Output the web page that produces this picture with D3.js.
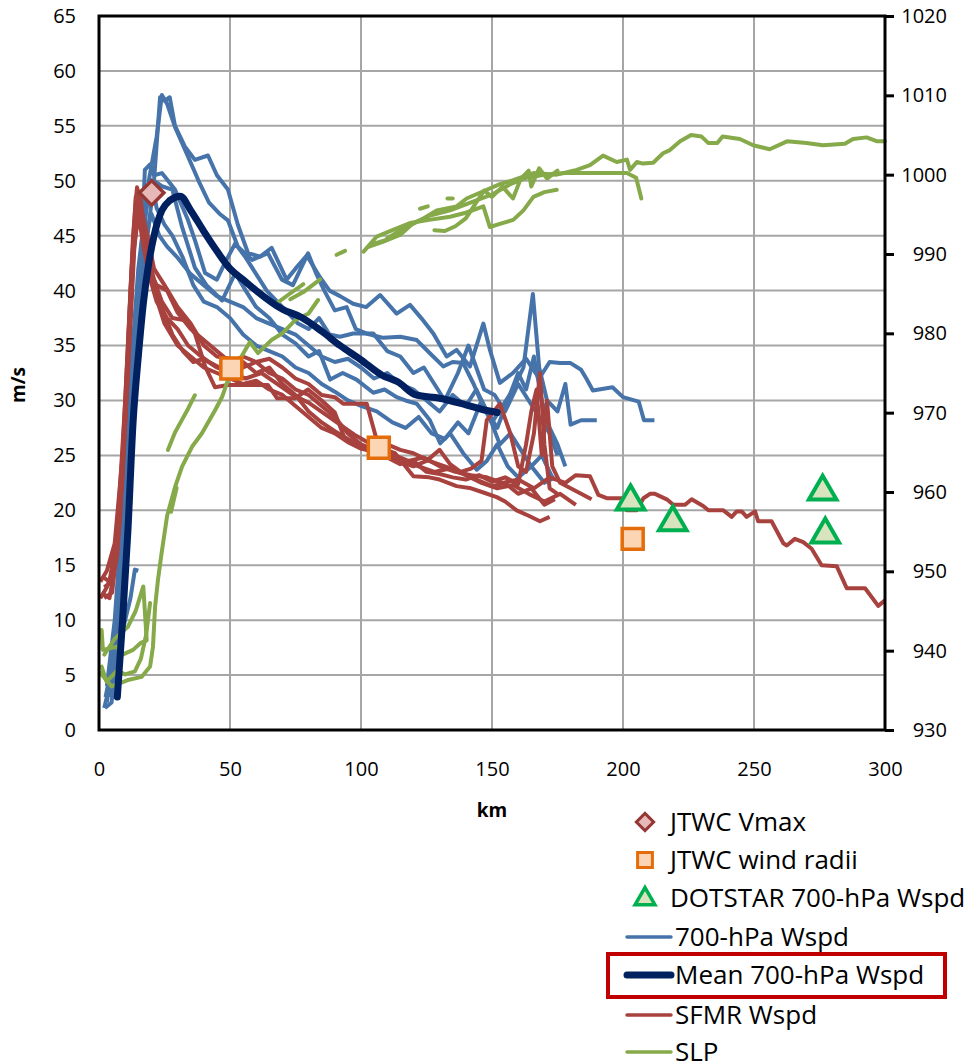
<!DOCTYPE html>
<html>
<head>
<meta charset="utf-8">
<script src="https://cdn.jsdelivr.net/npm/d3@7"></script>
<style>
  body { margin: 0; background: #fff; }
  text { font-family: "Open Sans", sans-serif; fill: #000; }
</style>
</head>
<body>
<div id="chart"></div>
<script>
// ---- data: [km, m/s] for wind, [km, hPa] for SLP ----
var jtwcVmax = [[20.1, 48.9]];
var jtwcRadii = [[50.5, 32.9], [106.8, 25.7], [203.7, 17.4]];
var dotstar = [[202.9, 20.8], [219, 18.9], [276.2, 21.7], [277.2, 17.8]];

var meanWspd = [[7,3],[9,10],[11,18],[13,28],[15,34],[17,39],[19,42.5],[21,45],[24,47.3],[27,48.2],[31,48.6],[35,47.3],[40,45.4],[45,43.6],[50,42],[55,41],[60,40],[70,38.3],[77,37.6],[85,36.3],[92,35],[100,33.7],[108,32.3],[114,31.7],[121,30.5],[130,30.2],[140,29.6],[146,29.2],[152,28.9]];

var wspd1 = [[3,2.5],[6,8],[9,15],[12,24],[15,35],[18,44],[21,50],[23.3,57.6],[25,57.3],[27,57.6],[29,55],[32.8,53.1],[36.6,51.9],[41.6,52.3],[45,50.5],[49.2,49.2],[53,46],[56.9,43.4],[61.5,43.1],[65.9,43.9],[71.6,41],[75,42],[79.3,43.2],[84.4,41.2],[88,40],[92,39.5],[97,38.8],[102,38.5],[107.3,39.6],[113.6,37.9],[118.7,38.7],[123,37.5],[127.6,36.1],[132.7,34],[136.5,34.6],[141.6,33.1],[146.7,37],[149.2,34.6],[153,31.6],[158,32.5],[163,33.8],[168,32],[172,33.5],[176,33.4],[180,33.4],[184,32.8],[186,32],[188.5,30.9],[196,31.2],[200,30.3],[206,29.9],[208,28.2],[212,28.2]];
var wspd2 = [[4,3],[7,9],[10,18],[13,30],[16,42],[19,50],[22,54],[24,57.8],[26,57],[29,54.9],[34,52.2],[38,50],[42,48],[46,47],[49.2,46.4],[53,44],[58.4,42.8],[64.5,43.4],[69.8,41],[74,40.5],[79.8,43.4],[83,41.5],[86,40],[90,38.2],[94.5,38.5],[98,36.5],[102,36.1],[108.5,35.7],[115,35.8],[121.3,35.5],[126.3,34.3],[131.4,33.1],[135,33.5],[139,33.4],[143,31.5],[146.7,29.4],[150,28],[154,29.5],[158,31],[162,33],[165.6,39.7],[168,33],[171,30],[175,29],[178,31.5],[180,27.8],[184,28.2],[190,28.2]];
var wspd3 = [[2,2],[5,5],[8,12],[11,22],[14,35],[16.5,45],[17.5,51],[19.5,51.5],[21,50.5],[24,50.7],[29,49.2],[34,46.4],[36.6,44.6],[40.5,41.6],[45,41],[48,42.5],[52,44.3],[56,43],[60,41.5],[64,40],[68,39],[72,38],[76,37],[80,36.5],[84,37.5],[88,36],[92,35.8],[97,36.1],[104.7,36.1],[110,34.5],[115,34],[120,32.5],[124,33],[128,31.5],[132,30],[137,32.5],[141,35],[144,33],[147,31],[151,30.5],[155,29],[160,31.5],[164,30],[168,28.5],[172,27],[175,25]];
var wspd4 = [[3,4],[6,10],[9,20],[12,32],[15,42],[18,48],[21,50],[24,49.5],[28,49.2],[31.7,45.8],[36.6,42.1],[41,40.5],[47,39.1],[52,41.6],[56,40],[60,38.5],[65,37.5],[70,36],[75,35.2],[80,34],[84,34.5],[88.2,31.9],[93,32.5],[98.3,31.9],[104.7,30.7],[109,31],[113.6,30.3],[117,30],[121.3,29.7],[126.3,28.2],[130.2,26.1],[134,27],[139,25.2],[144.2,23.7],[148,24.5],[152,26],[156,24],[160,23],[165,24],[170,22.5],[174,23]];
var wspd5 = [[2.5,3],[5,6],[8,14],[11,26],[14,38],[17,46],[20,50],[22,47.5],[25,46],[28,45],[32,43],[36,40.5],[40,39],[45,38.5],[50,37.5],[55,36],[60,35],[65,34.5],[70,34],[75,33],[80,32.5],[85,31.5],[90,30.8],[95,30],[100,29.5],[106,29],[112,28],[117,27.5],[122,28.5],[127,27],[132,26.5],[137,28],[141,27],[146,30],[149,28.5],[153,26],[157,27],[161,25.5],[165,24],[169,25],[173,23]];
var wspd6 = [[2.3,2],[4.8,2.5],[6,5.5],[8,8],[10,10],[12,12],[13.7,14.6],[15,14.5]];
var wspd7 = [[5,4],[8,10],[11,20],[14,33],[17,44],[20,47],[23,45],[26,44],[30,43],[35,41.5],[40,40.5],[45,39.5],[50,39],[55,38.5],[60,37.5],[65,37],[70,36.5],[75,36],[80,35],[85,34],[90,33.5],[95,33.8],[100,33],[105,32],[110,32.5],[115,31.5],[120,31],[125,30],[130,29],[135,30.5],[140,29.5],[144,31],[148,29],[152,27.5],[156,30],[160,32.5],[163,31],[166,34],[169,30],[172,27.5],[175,26],[178,24]];
var wspd700 = [wspd1, wspd2, wspd3, wspd4, wspd5, wspd6, wspd7];

var sfmr1 = [[0.5,13.5],[3,14.5],[6,17],[9,25],[11,35],[13,45],[14.5,49.4],[16,48],[18,44],[21,41],[24,39],[28,37.5],[32.8,37.3],[36.6,36.1],[40.5,33.1],[44.3,31.2],[49.2,31.4],[55,31.4],[64.5,31.4],[68,30.2],[74.8,30.2],[79.8,31],[85,30],[90,28.9],[94,26.4],[97.7,26.1],[102,25.5],[107,25.5],[113,25],[118,24.5],[124,24.8],[130,24],[136,23.5],[142,23.2],[148,23],[154,22.5],[160,22.8],[166,22],[172,23],[178,22.5],[182,23.2],[187.4,23.1],[190.6,21.4],[193.8,21.1],[199.5,21.1],[201.4,20],[205.2,20],[207.8,21.1],[210.3,21.5],[212.2,21.5],[216.7,21],[219.2,20.5],[223.7,20.5],[226.2,21],[230.6,20.4],[232.6,20],[238.3,20],[241.5,19.4],[243.4,19.9],[245.3,19.9],[247.2,19.4],[250.4,19.9],[251.6,19],[256.7,19],[261.2,17],[262.5,16.8],[265.6,17.4],[268.8,17.1],[272,16.5],[275.8,15],[281.6,14.9],[285.4,12.9],[292.4,12.9],[297.4,11.3],[300,11.8]];
var sfmr2 = [[1,12.5],[4,12],[7,16],[10,28],[12,40],[14,48.5],[15.5,49],[17,46],[19,42],[22,40.5],[26,40],[30,38],[35,36.5],[40,35.5],[45,34.5],[50,33.5],[55,34],[60,33.5],[65,33.8],[70,33],[75,32],[80,31.5],[85,30.5],[90,30.3],[93.2,29.7],[102.2,29.7],[106,26.4],[110,26],[115,25.5],[120,25.2],[126,24.5],[132,24],[138,23.5],[144,22.8],[150,22.2],[155,22.5],[160,21.5],[165,22],[170,20.5],[174,21]];
var sfmr3 = [[2,13],[5,13.5],[8,20],[11,32],[13.5,44],[15,48],[17,45],[20,41],[24,38.5],[28,36],[32,34.5],[36,33.5],[40,33.8],[45,33],[50,32.5],[55,33.5],[60,32.5],[65,33],[70,31.5],[75,30.5],[80,29],[85,28],[90,27.2],[95,26.5],[100,25.8],[107,25.7],[113,25.2],[120,23.1],[126,23],[130,22.8],[136.5,22.2],[142,22],[147,21.6],[151.8,21.2],[155,20.8],[159.4,20],[164,19.5],[168.3,19],[172,19.4]];
var sfmr4 = [[0.5,12],[3,13],[6,15],[9,23],[12,38],[14,47],[16,46],[18,43],[21,40],[25,37],[30,35],[35,34],[40,33],[45,32.5],[50,32],[55,31.5],[60,31.8],[65,31],[70,30.5],[75,29.5],[80,28.5],[85,27.5],[90,27],[95,26.2],[100,25.6],[105,25.4],[110,25],[115,24.4],[120,24],[125,24.5],[130,25.5],[134,24.2],[138,23.5],[142,23.8],[146,24.5],[148,28.2],[153,29.7],[157,27],[160,24],[163,23.5],[166,27],[168.3,32.5],[170,26],[172,22],[175,21.5]];
var sfmr5 = [[1,14],[4,13.5],[7,18],[10,30],[12.5,42],[14.5,49],[16,47.5],[18.5,45],[21,42],[25,40.5],[30,38.5],[35,37],[40,35],[45,34],[50,33.8],[55,33],[60,33.5],[65,32.5],[70,32],[75,31],[80,30.5],[85,29.5],[90,28.5],[95,27],[100,26],[105,25.5],[110,24.8],[115,24.2],[120,24.5],[125,23.5],[130,23.3],[135,23],[140,22.8],[145,23.2],[150,22.6],[155,23],[160,22.4],[163,26],[165,29],[167,31],[169,25],[171,30],[173,24],[176,22.5],[180,22],[184,21.5],[188,21]];
var sfmr6 = [[2,12],[5,12.5],[8,19],[11,33],[13,43],[15,47],[17,44],[19,41.5],[22,39],[26,37.5],[30,36.5],[34,35],[38,34.2],[42,33.5],[46,33],[50,32.5],[56,32],[62,32.5],[68,31.5],[74,30.5],[80,29.8],[86,28.8],[92,27.8],[98,26.8],[104,26],[110,25.3],[116,24.5],[122,24],[128,23.5],[134,23.8],[140,23.2],[146,22.5],[152,22],[158,22.3],[164,21.5],[170,20.8],[176,21.5],[182,20.5]];
var sfmr = [sfmr1, sfmr2, sfmr3, sfmr4, sfmr5, sfmr6];

var slp1 = [[0.5,937.2],[4.8,935.5],[11,936.3],[16.3,936.7],[19.5,938],[20.6,940.5],[21.4,945.5],[22.5,948.9],[23.9,952.3],[26,957],[29,960.6],[31.7,963.2],[35.5,965.7],[39.3,967.4],[44.3,970.3],[47,972],[49.2,974.1],[53,976.3],[57.6,978.9],[60.7,977.5],[66,979.2],[70,980],[75,981.7],[80,982.5],[83.6,984.2]];
var slp2 = [[1,942.6],[1.5,940.1],[6.7,940.5],[9,939.5],[13,940.1],[16,941],[18.2,941.3],[17.5,945],[16.9,948.1],[14,945],[11,943],[6,941.5],[2,939.5]];
var slp3 = [[1,938],[2.9,936.1],[7,937.5],[10,937],[13.7,937.4],[16,939],[18,942],[19.5,946]];
var slp4 = [[26.3,965.3],[29,967.5],[31.5,969],[34,970.5],[36.6,972.2]];
var slp5 = [[27.5,957.5],[29.6,960.5],[28.5,959]];
var slp6 = [[67,983.6],[72,984.8],[78,986.2]];
var slp7 = [[73,984.3],[78,985.2],[84.4,986.8]];
var slp8 = [[90.7,989.9],[93.9,990.4]];
var slp9 = [[102.8,990.9],[108,991.5],[114.9,992.4],[120,993.9],[124,994.5],[128.9,995.5],[136.5,996],[140.3,997],[148,998.1],[153,998.8],[158.1,999.3],[165.8,1000.2],[174.7,1000],[182.3,1000.6],[187.4,1001.2],[192.4,1002.4],[197.6,1001.6],[201.5,1001.9],[202.7,1000.6],[205.3,1001.6],[207.6,1001.4],[211.5,1001.5],[215.3,1002.7],[217.9,1003.1],[221.8,1004.2],[226,1005],[230,1004.8],[232.5,1004],[236,1004],[238,1004.8],[244.6,1004.5],[249.7,1003.7],[256,1003.2],[262.6,1004.2],[270,1004],[276.3,1003.7],[284.7,1003.9],[287.8,1004.5],[293,1004.7],[297,1004.2],[300,1004.2]];
var slp10 = [[110,992],[118,993.5],[126,994.8],[134,995.5],[142,996.5],[150,997.5],[157,998.8],[163,999.6],[170,1000],[178,1000.2],[187,1000.2],[195,1000.2],[201.5,1000.2],[205,999.6],[207,997]];
var slp11 = [[101,990.3],[106,992.2],[112,993],[118.7,993.9],[126,994.3],[134,994.7],[140,995.2],[146.7,996],[149.2,993.4],[153,993.8],[158.1,994.3],[162,995.5],[165.8,997.2],[170,997.8],[174.7,998.1]];
var slp12 = [[104,991.2],[110,991.8],[114,992.8]];
var slp13 = [[122.5,995.7],[125.5,996]];
var slp14 = [[133,997],[135,997]];
var slp15 = [[128,993],[132,992.9],[136,993.5],[140,994.5],[144,996.5],[147,998],[150,997.2],[154,998.5],[158,997],[161,999.5],[164,1000.5],[165,998.5],[168,1000.8],[171,999.5],[175,1000.5]];
var slp = [slp1, slp2, slp3, slp4, slp5, slp6, slp7, slp8, slp9, slp10, slp11, slp12, slp13, slp14, slp15];

var kmTicks = [0, 50, 100, 150, 200, 250, 300];
var wspdTicks = d3.range(0, 66, 5);
var slpTicks = d3.range(930, 1021, 10);

var legendItems = ["JTWC Vmax", "JTWC wind radii", "DOTSTAR 700-hPa Wspd", "700-hPa Wspd", "Mean 700-hPa Wspd", "SFMR Wspd", "SLP"];

// ---- chart ----
var width = 967, height = 1063;
var plotL = 99, plotR = 885, plotT = 16, plotB = 730;

var svg = d3.select("#chart").append("svg")
    .attr("width", width)
    .attr("height", height);

var x = d3.scaleLinear().domain([0, 300]).range([plotL, plotR]);
var y = d3.scaleLinear().domain([0, 65]).range([plotB, plotT]);
var yR = d3.scaleLinear().domain([930, 1020]).range([plotB, plotT]);

// grid
svg.append("g").selectAll("line")
    .data(wspdTicks)
  .enter().append("line")
    .attr("x1", plotL).attr("x2", plotR)
    .attr("y1", function(d) { return y(d); })
    .attr("y2", function(d) { return y(d); })
    .attr("stroke", "#a6a6a6").attr("stroke-width", 2);
svg.append("g").selectAll("line")
    .data(kmTicks)
  .enter().append("line")
    .attr("y1", plotT).attr("y2", plotB)
    .attr("x1", function(d) { return x(d); })
    .attr("x2", function(d) { return x(d); })
    .attr("stroke", "#a6a6a6").attr("stroke-width", 2);

var line = d3.line()
    .x(function(d) { return x(d[0]); })
    .y(function(d) { return y(d[1]); });
var lineR = d3.line()
    .x(function(d) { return x(d[0]); })
    .y(function(d) { return yR(d[1]); });

var plot = svg.append("g");

plot.selectAll(".blue").data(wspd700).enter().append("path")
    .attr("d", line).attr("fill", "none")
    .attr("stroke", "#4674aa").attr("stroke-width", 4)
    .attr("stroke-linejoin", "round");

plot.selectAll(".red").data(sfmr).enter().append("path")
    .attr("d", line).attr("fill", "none")
    .attr("stroke", "#a8423f").attr("stroke-width", 4)
    .attr("stroke-linejoin", "round");

plot.selectAll(".green").data(slp).enter().append("path")
    .attr("d", lineR).attr("fill", "none")
    .attr("stroke", "#86a94a").attr("stroke-width", 4)
    .attr("stroke-linejoin", "round").attr("stroke-linecap", "round");

plot.append("path")
    .attr("d", d3.line().curve(d3.curveMonotoneX)
        .x(function(d) { return x(d[0]); })
        .y(function(d) { return y(d[1]); })(meanWspd))
    .attr("fill", "none")
    .attr("stroke", "#002060").attr("stroke-width", 7)
    .attr("stroke-linecap", "round");

// markers
var square = d3.symbol().type(d3.symbolSquare).size(440);
var tri = d3.symbol().type(d3.symbolTriangle).size(330);
var diamond = d3.symbol().type(d3.symbolSquare).size(300);

plot.selectAll(".radii").data(jtwcRadii).enter().append("path")
    .attr("d", square)
    .attr("transform", function(d) { return "translate(" + x(d[0]) + "," + y(d[1]) + ")"; })
    .attr("fill", "#fcd5b5").attr("stroke", "#e46c0a").attr("stroke-width", 3.5);

plot.selectAll(".dotstar").data(dotstar).enter().append("path")
    .attr("d", tri)
    .attr("transform", function(d) { return "translate(" + x(d[0]) + "," + y(d[1]) + ")"; })
    .attr("fill", "#d7e4bd").attr("stroke", "#00b050").attr("stroke-width", 4);

plot.selectAll(".vmax").data(jtwcVmax).enter().append("path")
    .attr("d", diamond)
    .attr("transform", function(d) { return "translate(" + x(d[0]) + "," + y(d[1]) + ") rotate(45)"; })
    .attr("fill", "#e6b9b8").attr("stroke", "#953735").attr("stroke-width", 3.5);

// frame
svg.append("rect")
    .attr("x", plotL).attr("y", plotT)
    .attr("width", plotR - plotL).attr("height", plotB - plotT)
    .attr("fill", "none").attr("stroke", "#000").attr("stroke-width", 3);

// axes
var axL = svg.append("g")
    .attr("transform", "translate(" + plotL + ",0)")
    .call(d3.axisLeft(y).tickValues(wspdTicks).tickSize(0).tickPadding(23));
var axB = svg.append("g")
    .attr("transform", "translate(0," + plotB + ")")
    .call(d3.axisBottom(x).tickValues(kmTicks).tickSize(0).tickPadding(32));
var axR = svg.append("g")
    .attr("transform", "translate(" + plotR + ",0)")
    .call(d3.axisRight(yR).tickValues(slpTicks).tickFormat(d3.format("d"))
        .tickSizeInner(9).tickSizeOuter(0).tickPadding(10));
axR.selectAll("text").attr("text-anchor", "end").attr("x", 62);
axR.selectAll(".tick line").attr("stroke", "#000").attr("stroke-width", 3);

[axL, axB, axR].forEach(function(a) {
    a.select(".domain").remove();
    a.selectAll("text").style("font-size", "20px").style("font-family", "'Open Sans', sans-serif").attr("fill", "#000");
});

svg.append("text")
    .attr("transform", "translate(25,385) rotate(-90)")
    .attr("text-anchor", "middle")
    .style("font-size", "19px").style("font-weight", "bold")
    .text("m/s");
svg.append("text")
    .attr("x", 492).attr("y", 817)
    .attr("text-anchor", "middle")
    .style("font-size", "19px").style("font-weight", "bold")
    .text("km");

// legend
var legY = [822, 860, 898, 937, 975, 1015, 1052];
var leg = svg.append("g");
leg.append("path").attr("d", d3.symbol().type(d3.symbolSquare).size(150))
    .attr("transform", "translate(645," + legY[0] + ") rotate(45)")
    .attr("fill", "#e6b9b8").attr("stroke", "#953735").attr("stroke-width", 3);
leg.append("path").attr("d", d3.symbol().type(d3.symbolSquare).size(220))
    .attr("transform", "translate(645," + legY[1] + ")")
    .attr("fill", "#fcd5b5").attr("stroke", "#e46c0a").attr("stroke-width", 3);
leg.append("path").attr("d", d3.symbol().type(d3.symbolTriangle).size(170))
    .attr("transform", "translate(645," + (legY[2] + 1) + ")")
    .attr("fill", "#d7e4bd").attr("stroke", "#00b050").attr("stroke-width", 3.5);
var legLines = [[3, "#4674aa", 3.5], [4, "#002060", 7], [5, "#a8423f", 3.5], [6, "#86a94a", 3.5]];
legLines.forEach(function(l) {
    leg.append("line")
        .attr("x1", 627).attr("x2", 671)
        .attr("y1", legY[l[0]]).attr("y2", legY[l[0]])
        .attr("stroke", l[1]).attr("stroke-width", l[2]).attr("stroke-linecap", "round");
});
leg.selectAll("text").data(legendItems).enter().append("text")
    .attr("x", function(d, i) { return i < 3 ? 670 : 675; })
    .attr("y", function(d, i) { return legY[i] + 9; })
    .style("font-size", "26px")
    .text(function(d) { return d; });

leg.append("rect")
    .attr("x", 608).attr("y", 954)
    .attr("width", 337).attr("height", 43)
    .attr("fill", "none").attr("stroke", "#c00000").attr("stroke-width", 4);
</script>
</body>
</html>
